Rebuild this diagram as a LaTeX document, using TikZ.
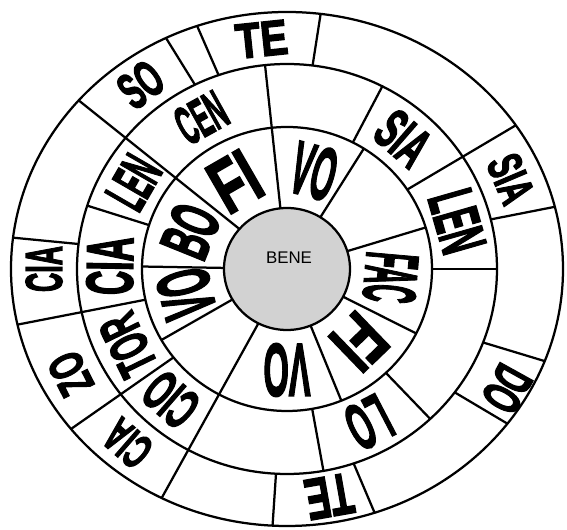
\documentclass[tikz,border=0pt]{standalone}
\usepackage{fontspec}
\setmainfont{Liberation Sans}
\newfontfamily\heavy[FakeBold=3]{Liberation Sans Bold}
\usepackage{graphicx}
\newdimen\pxu \pxu=0.025cm
\newcommand{\syl}[3]{\resizebox{#1\pxu}{#2\pxu}{\heavy #3}}

\begin{document}
\begin{tikzpicture}[x=0.025cm, y=0.025cm,
    ring/.style={draw=black, line width=1.6pt},
    spoke/.style={draw=black, line width=1.6pt},
    hub/.style={draw=black, line width=1.6pt, fill=gray!35},
    word/.style={inner sep=0pt, outer sep=0pt}
  ]
  \useasboundingbox (-287,-261) rectangle (280,269);
  % rings
  \draw[ring] (0,0) ellipse [x radius=276, y radius=257];
  \draw[ring] (0,0) ellipse [x radius=210, y radius=205];
  \draw[ring] (0,0) ellipse [x radius=145, y radius=142];
  \filldraw[hub] (0,0) ellipse [x radius=63, y radius=61];
  \node[font=\fontsize{12}{12}\selectfont] (bene) at (2,11) {BENE};

  % spokes
  \foreach \a in {58,17,-27,-68,179,210}
    \draw[spoke] (\a:63 and 61) -- (\a:145 and 142);
  \foreach \a in {0,63,162,-80,-47}
    \draw[spoke] (\a:145 and 142) -- (\a:210 and 205);
  \foreach \a in {83,14,-21,-37,-71.5,-93,173,116,109}
    \draw[spoke] (\a:210 and 205) -- (\a:276 and 257);
  \draw[spoke] (96:63 and 61) -- (96:210 and 205);
  \foreach \a in {34,192.5,218.5}
    \draw[spoke] (\a:145 and 142) -- (\a:276 and 257);
  \foreach \a in {139,243}
    \draw[spoke] (\a:63 and 61) -- (\a:276 and 257);

  % syllables
  \foreach \a/\w/\h/\t [count=\i] in {120/46/52/FI, 75/44/52/VO, -5/50/52/FAC,
      -46/44/50/FI, -90/47/52/VO, 194/48/52/VO, 158/50/48/BO}
    \node[word, rotate=\a-90] (inner\i) at (\a:104 and 101) {\syl{\w}{\h}{\t}};
  \foreach \a/\w/\h/\t [count=\i] in {16/62/44/LEN, 49/52/40/SIA, 119/50/38/CEN,
      150/50/40/LEN, 179/58/46/CIA, 206/62/38/TOR, 229/52/40/CIO, -62.5/42/46/LO}
    \node[word, rotate=\a-90] (middle\i) at (\a:177 and 173) {\syl{\w}{\h}{\t}};
  \foreach \a/\w/\h/\t [count=\i] in {96/52/34/TE, 127/42/36/SO, 180/46/36/CIA,
      207/42/34/ZO, 229/46/34/CIA, -80/48/40/TE, 23/48/34/SIA}
    \node[word, rotate=\a-90] (outer\i) at (\a:243 and 231) {\syl{\w}{\h}{\t}};
  \node[word, rotate=-119] (outer8) at (-30:254 and 240) {\syl{44}{38}{DO}};
\end{tikzpicture}
\end{document}
